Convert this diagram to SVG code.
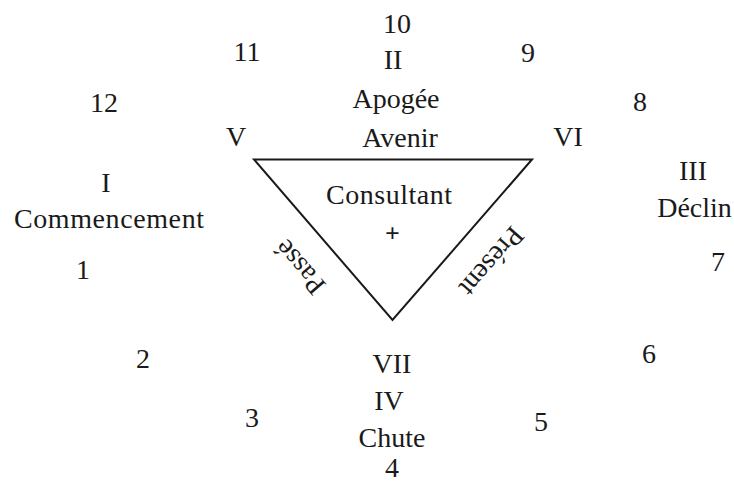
<svg xmlns="http://www.w3.org/2000/svg" width="734" height="483" viewBox="0 0 734 483">
<style>
text{font-family:"Liberation Serif","Times New Roman",serif;font-size:28px;fill:#1a1a1a;text-anchor:middle}
.plus{font-size:26px;font-weight:bold}
.tri{fill:none;stroke:#1a1a1a;stroke-width:2;stroke-linejoin:miter}
</style>
<rect width="734" height="483" fill="#ffffff"/>
<g id="triangle">
<polygon class="tri" points="254,159.5 532,159.5 392.5,320"/>
<text x="389" y="204" textLength="126">Consultant</text>
<text class="plus" x="392.5" y="242">+</text>
<text transform="translate(300,267) rotate(229.4)" y="9">Passé</text>
<text transform="translate(491.5,261.5) rotate(131)" y="9">Présent</text>
</g>
<g id="top">
<text x="397" y="33">10</text>
<text x="393" y="69">II</text>
<text x="396" y="108">Apogée</text>
<text x="400" y="147">Avenir</text>
</g>
<g id="left">
<text x="106" y="192">I</text>
<text x="109" y="228" textLength="190">Commencement</text>
</g>
<g id="right">
<text x="693" y="180">III</text>
<text x="694.5" y="217">Déclin</text>
</g>
<g id="bottom">
<text x="392" y="373">VII</text>
<text x="389" y="410">IV</text>
<text x="392" y="447">Chute</text>
<text x="392" y="477">4</text>
</g>
<g id="corners">
<text x="236" y="146">V</text>
<text x="568" y="146">VI</text>
</g>
<g id="numbers">
<text x="247" y="61">11</text>
<text x="528" y="62">9</text>
<text x="104" y="112">12</text>
<text x="640" y="111">8</text>
<text x="83" y="279">1</text>
<text x="718" y="271">7</text>
<text x="143" y="368">2</text>
<text x="649" y="363">6</text>
<text x="252" y="427">3</text>
<text x="541" y="431">5</text>
</g>
</svg>
